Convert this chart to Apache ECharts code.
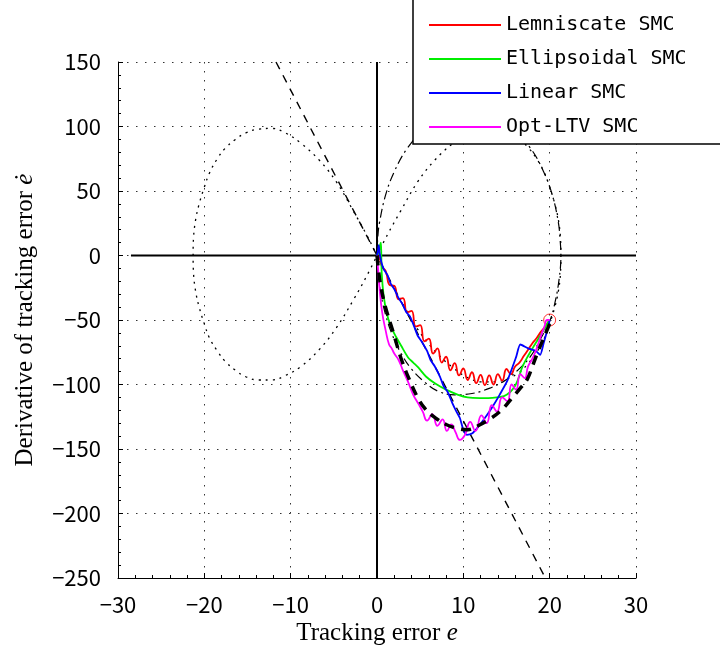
<!DOCTYPE html>
<html>
<head>
<meta charset="utf-8">
<script src="https://cdn.jsdelivr.net/npm/echarts@6/dist/echarts.min.js"></script>
<style>
  html, body { margin: 0; padding: 0; background: #fff; }
  #chart { width: 720px; height: 646px; }
</style>
</head>
<body>
<div id="chart"></div>
<script>
// Axis limits and tick spacing of the phase plane (e, de/dt)
const xLimits = [-30, 30];
const yLimits = [-250, 150];
const xTickStep = 10;
const yTickStep = 50;

// Reference lines through the origin
const zeroLineH = [[-28.5, 0], [30, 0]];
const zeroLineV = [[0, -250], [0, 150]];

// Linear sliding surface (thin dashed)
const linearSurface = [[-11.7, 150], [19.5, -250]];

// Lemniscate switching curve (dotted figure-eight)
const lemniscateCurve = [
  [0, 0], [1.2, 16], [2.7, 34], [4.7, 57], [6.7, 74], [8.8, 87], [10.6, 95], [12.2, 98],
  [13.7, 98], [15.2, 95], [16.4, 91], [17.6, 83], [18.5, 75], [19.4, 64], [20, 53],
  [20.6, 40], [21, 28], [21.25, 14], [21.3, 0], [21.25, -14], [21, -28], [20.6, -40],
  [20, -53], [19.4, -64], [18.5, -75], [17.6, -83], [16.4, -91], [15.2, -95], [13.7, -98],
  [12.2, -98], [10.6, -95], [8.8, -87], [6.7, -74], [4.7, -57], [2.7, -34], [1.2, -16],
  [0, 0], [-1.2, 16], [-2.7, 34], [-4.7, 57], [-6.7, 74], [-8.8, 87], [-10.6, 95],
  [-12.2, 98.5], [-13.7, 98], [-15.2, 95], [-16.4, 90], [-17.6, 83], [-18.5, 75],
  [-19.4, 64], [-20, 53], [-20.6, 40], [-21, 28], [-21.25, 14], [-21.3, 0], [-21.25, -14],
  [-21, -28], [-20.6, -40], [-20, -53], [-19.4, -64], [-18.5, -74], [-17.6, -82],
  [-16.4, -89], [-15.2, -94], [-13.7, -96.5], [-12.2, -96.5], [-10.6, -93], [-8.8, -86],
  [-6.7, -73], [-4.7, -56], [-2.7, -34], [-1.2, -16], [0, 0]
];

// Ellipsoidal switching curve (dash-dot)
const ellipseCurve = [
  [0, 0], [0.1, 15], [0.3, 26], [1, 47], [2, 65], [3.5, 83], [5.5, 98], [8, 108],
  [10.6, 112], [13.3, 108], [15.8, 98], [17.8, 83], [19.3, 65], [20.3, 47], [21, 26],
  [21.2, 13], [21.3, 0], [21.1, -18], [20.6, -37], [20, -51], [19, -64], [17.8, -78],
  [16.3, -89], [14.8, -97], [13, -103], [11, -107], [9, -108], [7, -105], [5.5, -98],
  [4, -88], [2.8, -76], [1.8, -62], [1, -46], [0.4, -28], [0.1, -13], [0, 0]
];

// Optimal LTV sliding surface (thick dashed)
const optLtvSurface = [
  [0, 0], [0.15, -10], [0.4, -22], [0.9, -38], [1.9, -60], [2.8, -80], [3.8, -97],
  [4.7, -110], [5.6, -119], [6.8, -126], [8, -131], [9.3, -134], [10.5, -135],
  [11.7, -132], [13, -127], [14.4, -120], [15.7, -110], [16.7, -102], [17.4, -96],
  [18, -86], [18.5, -77], [19.3, -64], [20, -53]
];

// Closed-loop trajectories starting from the initial state
const lemniscateSMC = [
  [20, -50], [19.5, -55], [19, -59], [18.5, -64], [18, -68], [17.5, -73], [17, -78],
  [16.5, -83], [16, -86], [15.5, -92], [15, -88], [14.5, -97], [14, -92], [13.5, -100],
  [13, -93], [12.5, -100.5], [12, -92.5], [11.5, -99], [11, -90.5], [10.5, -96.5],
  [10, -87.5], [9.5, -93], [9, -83.5], [8.5, -89], [8, -78.5], [7.5, -83], [7, -72],
  [6.5, -76], [6, -64.5], [5.5, -66.5], [5, -54], [4.5, -55], [4, -43], [3.5, -44],
  [3, -33], [2.5, -34], [2, -23.5], [1.5, -23], [1, -12], [0.6, -9], [0.3, -2], [0, 0]
];
const ellipsoidalSMC = [
  [20, -50], [19.8, -52], [19.1, -60], [18.1, -71], [17.4, -79], [16.8, -87], [16.4, -95],
  [16, -101], [15.4, -106], [14.7, -109], [13.9, -110], [12.9, -110.5], [11.9, -110.5],
  [10.5, -110], [9.4, -108], [8, -104], [6.7, -99], [5.7, -94], [4.8, -87], [4.2, -83],
  [3.6, -79], [2.8, -70], [2.2, -63], [1.6, -55], [1.1, -44], [0.75, -30], [0.55, -14],
  [0.5, 0], [0.45, 10], [0.35, 8], [0.2, 3], [0, 0]
];
const linearSMC = [
  [20, -50], [19.8, -56], [19.3, -68], [18.9, -77], [18.4, -74], [17.5, -72], [16.6, -69],
  [16.1, -79], [15.1, -97], [14.2, -108], [13.4, -117], [12.7, -124], [11.7, -133],
  [11, -138], [10.4, -139], [10, -135], [9.6, -126], [9.2, -121], [8.7, -114], [8.2, -106],
  [7.7, -101], [7.3, -94], [6.7, -86], [6.2, -81], [5.8, -74], [5.2, -67], [4.7, -62],
  [4.3, -55], [3.8, -47], [3.4, -44], [2.9, -37], [2.5, -33], [2, -26], [1.6, -22],
  [1.2, -15], [0.8, -11], [0.5, -5], [0.3, 2], [0.2, 8], [0.1, 3], [0, 0]
];
const optLtvSMC = [
  [20, -50], [19.7, -50], [19.4, -55], [19.0, -62], [18.5, -72], [18.0, -80], [17.5, -86],
  [17.1, -95], [16.6, -92], [16.1, -104], [15.6, -100], [15.1, -113], [14.5, -110],
  [13.9, -121], [13.3, -116], [12.7, -130], [12.1, -124], [11.4, -136], [10.8, -129],
  [10.2, -139], [9.6, -143], [9.1, -137], [8.6, -131], [8.1, -136], [7.6, -127],
  [7.0, -132], [6.4, -123], [5.8, -128], [5.3, -121], [4.8, -115], [4.2, -108],
  [3.6, -98], [3.0, -89], [2.5, -81], [2.0, -76], [1.7, -72], [1.4, -69], [1.0, -58],
  [0.6, -44], [0.3, -26], [0.12, -10], [0, 0]
];
const initialState = [[20, -50]];

const seriesNames = ['Lemniscate SMC', 'Ellipsoidal SMC', 'Linear SMC', 'Opt-LTV SMC'];
const seriesColors = ['#ff0000', '#00ee00', '#0000ff', '#ff00ff'];

const tickFont = 'Noto Sans CJK JP';
const titleFont = 'Liberation Serif';
const minus = v => (v < 0 ? '\u2212' + Math.abs(v) : String(v));

function guide(data, dash, width, smooth) {
  return {
    type: 'line', data: data, symbol: 'none', smooth: smooth, silent: true,
    lineStyle: { color: '#000', width: width, type: dash, cap: 'butt' }
  };
}
function trajectory(i, data, smooth) {
  return {
    type: 'line', name: seriesNames[i], data: data, symbol: 'none', smooth: smooth,
    color: seriesColors[i], silent: true,
    lineStyle: { color: seriesColors[i], width: 1.8 }
  };
}

const chart = echarts.init(document.getElementById('chart'), null, { renderer: 'canvas' });
chart.setOption({
  animation: false,
  backgroundColor: '#fff',
  grid: { left: 118, right: 84, top: 62, bottom: 68, outerBoundsMode: 'none' },
  xAxis: {
    type: 'value', min: xLimits[0], max: xLimits[1], interval: xTickStep,
    name: '{n|Tracking error }{i|e}', nameLocation: 'middle', nameGap: 41,
    nameTextStyle: {
      rich: {
        n: { fontFamily: titleFont, fontSize: 25, color: '#000' },
        i: { fontFamily: titleFont, fontSize: 25, fontStyle: 'italic', color: '#000' }
      }
    },
    axisLine: { onZero: false, lineStyle: { color: '#000', width: 1 } },
    axisTick: { inside: true, length: 5, lineStyle: { color: '#000' } },
    minorTick: { show: true, splitNumber: 5, length: 3, lineStyle: { color: '#000' } },
    axisLabel: { fontFamily: tickFont, fontSize: 22, color: '#000', margin: 16, formatter: minus },
    splitLine: { show: true, lineStyle: { color: '#333', width: 1, type: [1.5, 7.5] } }
  },
  yAxis: {
    type: 'value', min: yLimits[0], max: yLimits[1], interval: yTickStep,
    name: '{n|Derivative of tracking error }{i|\u0117}', nameLocation: 'middle', nameGap: 80,
    nameRotate: 90,
    nameTextStyle: {
      rich: {
        n: { fontFamily: titleFont, fontSize: 25, color: '#000' },
        i: { fontFamily: titleFont, fontSize: 25, fontStyle: 'italic', color: '#000' }
      }
    },
    axisLine: { onZero: false, lineStyle: { color: '#000', width: 1 } },
    axisTick: { inside: true, length: 5, lineStyle: { color: '#000' } },
    minorTick: { show: true, splitNumber: 5, length: 3, lineStyle: { color: '#000' } },
    axisLabel: { fontFamily: tickFont, fontSize: 22, color: '#000', margin: 17, formatter: minus },
    splitLine: { show: true, lineStyle: { color: '#333', width: 1, type: [1.5, 7.5] } }
  },
  legend: {
    data: seriesNames, orient: 'vertical', left: 429, top: 13, padding: 0,
    itemWidth: 72, itemHeight: 2, itemGap: 10, icon: 'rect', selectedMode: false, z: 60,
    textStyle: { fontFamily: 'DejaVu Sans Mono', fontSize: 20, lineHeight: 24, color: '#000' }
  },
  graphic: [{
    type: 'rect', z: 50,
    shape: { x: 413, y: -2, width: 320, height: 146 },
    style: { fill: '#fff', stroke: '#000', lineWidth: 1.5 }
  }],
  series: [
    guide(zeroLineH, 'solid', 2, false),
    guide(zeroLineV, 'solid', 2, false),
    guide(linearSurface, [8, 7], 1.4, false),
    guide(lemniscateCurve, [2, 5], 1.3, 0.4),
    guide(ellipseCurve, [9, 4, 2, 4], 1.2, 0.4),
    trajectory(0, lemniscateSMC, 0.5),
    trajectory(1, ellipsoidalSMC, 0.3),
    trajectory(2, linearSMC, 0.2),
    trajectory(3, optLtvSMC, 0.5),
    guide(optLtvSurface, [10, 7], 3.5, 0.4),
    {
      type: 'scatter', data: initialState, symbol: 'circle', symbolSize: 12, silent: true,
      itemStyle: { color: 'rgba(0,0,0,0)', borderColor: '#ff0000', borderWidth: 1 }
    }
  ]
});
</script>
</body>
</html>
